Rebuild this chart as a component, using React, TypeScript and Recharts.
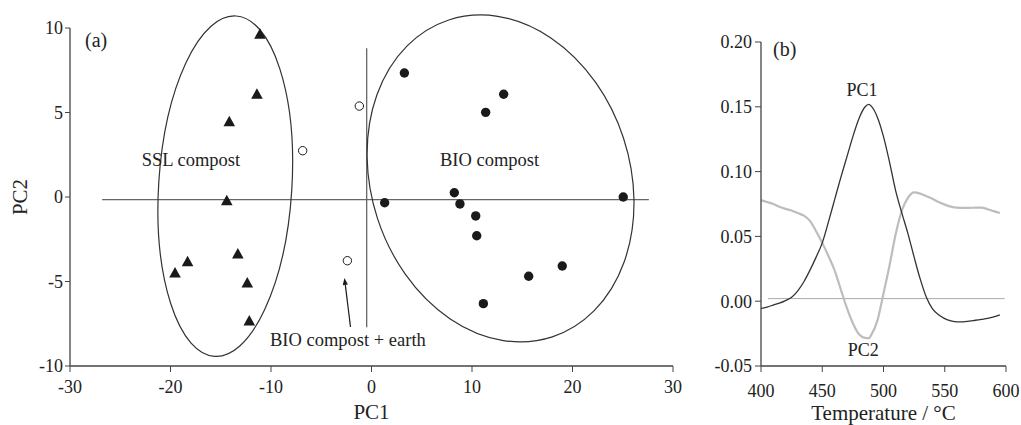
import React from 'react';
import {
  Line,
  LineChart,
  ReferenceDot,
  ReferenceLine,
  Scatter,
  ScatterChart,
  XAxis,
  YAxis,
} from 'recharts';

const SERIF = '"Liberation Serif", "Times New Roman", serif';
const INK = '#1a1a1a';
const AXIS = '#444';

// (a) PCA scores
const sslCompost = [
  { x: -11.1, y: 9.63 },
  { x: -11.4, y: 6.08 },
  { x: -14.15, y: 4.46 },
  { x: -14.4, y: -0.22 },
  { x: -13.3, y: -3.37 },
  { x: -18.3, y: -3.83 },
  { x: -19.55, y: -4.5 },
  { x: -12.36, y: -5.09 },
  { x: -12.16, y: -7.34 },
];

const bioCompost = [
  { x: 3.27, y: 7.34 },
  { x: 13.15, y: 6.08 },
  { x: 11.36, y: 5.01 },
  { x: 8.24, y: 0.25 },
  { x: 1.31, y: -0.34 },
  { x: 8.8, y: -0.41 },
  { x: 25.05, y: 0.0 },
  { x: 10.37, y: -1.12 },
  { x: 10.47, y: -2.29 },
  { x: 15.64, y: -4.69 },
  { x: 18.98, y: -4.08 },
  { x: 11.13, y: -6.31 },
];

const bioEarth = [
  { x: -6.85, y: 2.74 },
  { x: -1.21, y: 5.38 },
  { x: -2.4, y: -3.77 },
];

const pcaXTicks = [-30, -20, -10, 0, 10, 20, 30];
const pcaYTicks = [-10, -5, 0, 5, 10];

// (b) loadings
const temperature = [
  400, 405, 410, 415, 420, 425, 430, 435, 440, 445, 450, 455, 460, 465, 470, 475, 480, 485, 488,
  490, 495, 500, 505, 510, 515, 520, 525, 530, 535, 540, 545, 550, 555, 560, 565, 570, 575, 580,
  585, 590, 595,
];
const pc1Loading = [
  -0.0057, -0.0045, -0.003, -0.0015, 0.0005, 0.003, 0.008, 0.015, 0.024, 0.034, 0.045, 0.061,
  0.078, 0.095, 0.111, 0.127, 0.141, 0.1500, 0.1518, 0.1505, 0.142, 0.127, 0.107, 0.085, 0.068,
  0.052, 0.034, 0.017, 0.003, -0.006, -0.0105, -0.0135, -0.0152, -0.016, -0.016, -0.0154,
  -0.0147, -0.014, -0.0133, -0.012, -0.0105,
];
const pc2Loading = [
  0.078, 0.0765, 0.075, 0.0728, 0.0712, 0.07, 0.068, 0.066, 0.062, 0.054, 0.045, 0.035, 0.024,
  0.0095, -0.005, -0.017, -0.0255, -0.0283, -0.0285, -0.026, -0.015, 0.006, 0.028, 0.052, 0.07,
  0.08, 0.084, 0.083, 0.081, 0.079, 0.0765, 0.0745, 0.073, 0.0722, 0.072, 0.072, 0.0722, 0.0722,
  0.071, 0.0695, 0.068,
];
const tempTicks = [400, 450, 500, 550, 600];
const loadingTicks = [-0.05, 0, 0.05, 0.1, 0.15, 0.2];

const loadings = temperature.map((t, i) => ({ t, pc1: pc1Loading[i], pc2: pc2Loading[i] }));

// annotations (data coordinates)
const clusters = [
  { x: -14.55, y: 0.64, rx: 66.6, ry: 170.5, angle: 3.6 },
  { x: 12.84, y: 1.1, rx: 129.4, ry: 166.7, angle: -18.1 },
];

const notesA = [
  { text: '(a)', x: -28.5, y: 8.88, size: 20, anchor: 'start' },
  { text: 'SSL compost', x: -22.87, y: 1.83, size: 18.5, anchor: 'start' },
  { text: 'BIO compost', x: 6.82, y: 1.83, size: 18.5, anchor: 'start' },
  { text: 'BIO compost + earth', x: -10.1, y: -8.82, size: 18.5, anchor: 'start' },
];

const notesB = [
  { text: '(b)', x: 409.8, y: 0.1895, size: 20, anchor: 'start' },
  { text: 'PC1', x: 482.5, y: 0.1585, size: 18, anchor: 'middle' },
  { text: 'PC2', x: 483.4, y: -0.0425, size: 18, anchor: 'middle' },
];

const tickStyle = { fill: '#222', fontSize: 18, fontFamily: SERIF };
const titleStyle = { fill: '#222', fontSize: 21, fontFamily: SERIF };

const Triangle = (p: any) => (
  <polygon
    points={`${p.cx},${p.cy - 6} ${p.cx + 5.8},${p.cy + 4.5} ${p.cx - 5.8},${p.cy + 4.5}`}
    fill={INK}
  />
);
const FilledDot = (p: any) => <circle cx={p.cx} cy={p.cy} r={4.7} fill={INK} />;
const OpenDot = (p: any) => <circle cx={p.cx} cy={p.cy} r={4.2} fill="#fff" stroke={INK} strokeWidth={1} />;

const noteShape = (n: { text: string; size: number; anchor: string }) => (p: any) => (
  <text x={p.cx} y={p.cy} fontSize={n.size} fontFamily={SERIF} fill="#222" textAnchor={n.anchor}>
    {n.text}
  </text>
);

const ellipseShape = (c: { rx: number; ry: number; angle: number }) => (p: any) => (
  <ellipse
    cx={p.cx}
    cy={p.cy}
    rx={c.rx}
    ry={c.ry}
    transform={`rotate(${c.angle} ${p.cx} ${p.cy})`}
    fill="none"
    stroke="#333"
    strokeWidth={1.2}
  />
);

const Arrow = (p: any) => {
  const { x1, y1, x2, y2 } = p;
  const a = Math.atan2(y2 - y1, x2 - x1);
  const bx = x2 - 7 * Math.cos(a);
  const by = y2 - 7 * Math.sin(a);
  const px = -Math.sin(a) * 2.6;
  const py = Math.cos(a) * 2.6;
  return (
    <g>
      <line x1={x1} y1={y1} x2={bx} y2={by} stroke={INK} strokeWidth={1.2} />
      <polygon points={`${x2},${y2} ${bx + px},${by + py} ${bx - px},${by - py}`} fill={INK} />
    </g>
  );
};

export default function App() {
  return (
    <div style={{ position: 'absolute', left: 0, top: 0, width: 1021, height: 425, background: '#fff' }}>
      <div style={{ position: 'absolute', left: 0, top: 0 }}>
        <ScatterChart width={700} height={425} margin={{ top: 28, right: 27, bottom: 0, left: 0 }}>
          <XAxis
            type="number"
            dataKey="x"
            domain={[-30, 30]}
            ticks={pcaXTicks}
            height={59}
            tickSize={6}
            tickMargin={8}
            axisLine={{ stroke: AXIS, strokeWidth: 1.3 }}
            tickLine={{ stroke: AXIS }}
            tick={tickStyle}
            label={{ value: 'PC1', position: 'insideBottom', offset: 6, style: titleStyle }}
          />
          <YAxis
            type="number"
            dataKey="y"
            domain={[-10, 10]}
            ticks={pcaYTicks}
            width={70}
            tickSize={5}
            tickMargin={2}
            axisLine={{ stroke: AXIS, strokeWidth: 1.3 }}
            tickLine={{ stroke: AXIS }}
            tick={tickStyle}
            label={{
              value: 'PC2',
              angle: -90,
              position: 'insideLeft',
              offset: 20,
              style: { ...titleStyle, textAnchor: 'middle' },
            }}
          />
          <ReferenceLine
            segment={[{ x: -26.8, y: -0.15 }, { x: 27.6, y: -0.15 }]}
            stroke="#666"
            strokeWidth={1.3}
          />
          <ReferenceLine
            segment={[{ x: -0.48, y: 8.8 }, { x: -0.48, y: -7.7 }]}
            stroke="#666"
            strokeWidth={1.3}
          />
          {clusters.map((c, i) => (
            <ReferenceDot key={`e${i}`} x={c.x} y={c.y} r={1} shape={ellipseShape(c)} />
          ))}
          <ReferenceLine segment={[{ x: -2.09, y: -7.69 }, { x: -2.69, y: -4.79 }]} shape={Arrow} />
          {notesA.map((n) => (
            <ReferenceDot key={n.text} x={n.x} y={n.y} r={1} shape={noteShape(n)} />
          ))}
          <Scatter data={sslCompost} shape={Triangle} isAnimationActive={false} />
          <Scatter data={bioCompost} shape={FilledDot} isAnimationActive={false} />
          <Scatter data={bioEarth} shape={OpenDot} isAnimationActive={false} />
        </ScatterChart>
      </div>
      <div style={{ position: 'absolute', left: 700, top: 0 }}>
        <LineChart width={321} height={425} data={loadings} margin={{ top: 42, right: 15, bottom: 0, left: 0 }}>
          <XAxis
            type="number"
            dataKey="t"
            domain={[400, 600]}
            ticks={tempTicks}
            height={59}
            tickSize={6}
            tickMargin={12}
            axisLine={{ stroke: AXIS, strokeWidth: 1.3 }}
            tickLine={{ stroke: AXIS }}
            tick={tickStyle}
            label={{ value: 'Temperature / °C', position: 'insideBottom', offset: 5, style: titleStyle }}
          />
          <YAxis
            type="number"
            domain={[-0.05, 0.2]}
            ticks={loadingTicks}
            tickFormatter={(v: number) => v.toFixed(2)}
            width={61}
            tickSize={6}
            tickMargin={3}
            axisLine={{ stroke: AXIS, strokeWidth: 1.3 }}
            tickLine={{ stroke: AXIS }}
            tick={tickStyle}
          />
          <ReferenceLine
            segment={[{ x: 405.7, y: 0.002 }, { x: 599, y: 0.002 }]}
            stroke="#aaa"
            strokeWidth={1}
          />
          <Line
            type="monotone"
            dataKey="pc2"
            stroke="#bdbdbd"
            strokeWidth={2.2}
            dot={false}
            isAnimationActive={false}
          />
          <Line
            type="monotone"
            dataKey="pc1"
            stroke="#333"
            strokeWidth={1.3}
            dot={false}
            isAnimationActive={false}
          />
          {notesB.map((n) => (
            <ReferenceDot key={n.text} x={n.x} y={n.y} r={1} shape={noteShape(n)} />
          ))}
        </LineChart>
      </div>
    </div>
  );
}
